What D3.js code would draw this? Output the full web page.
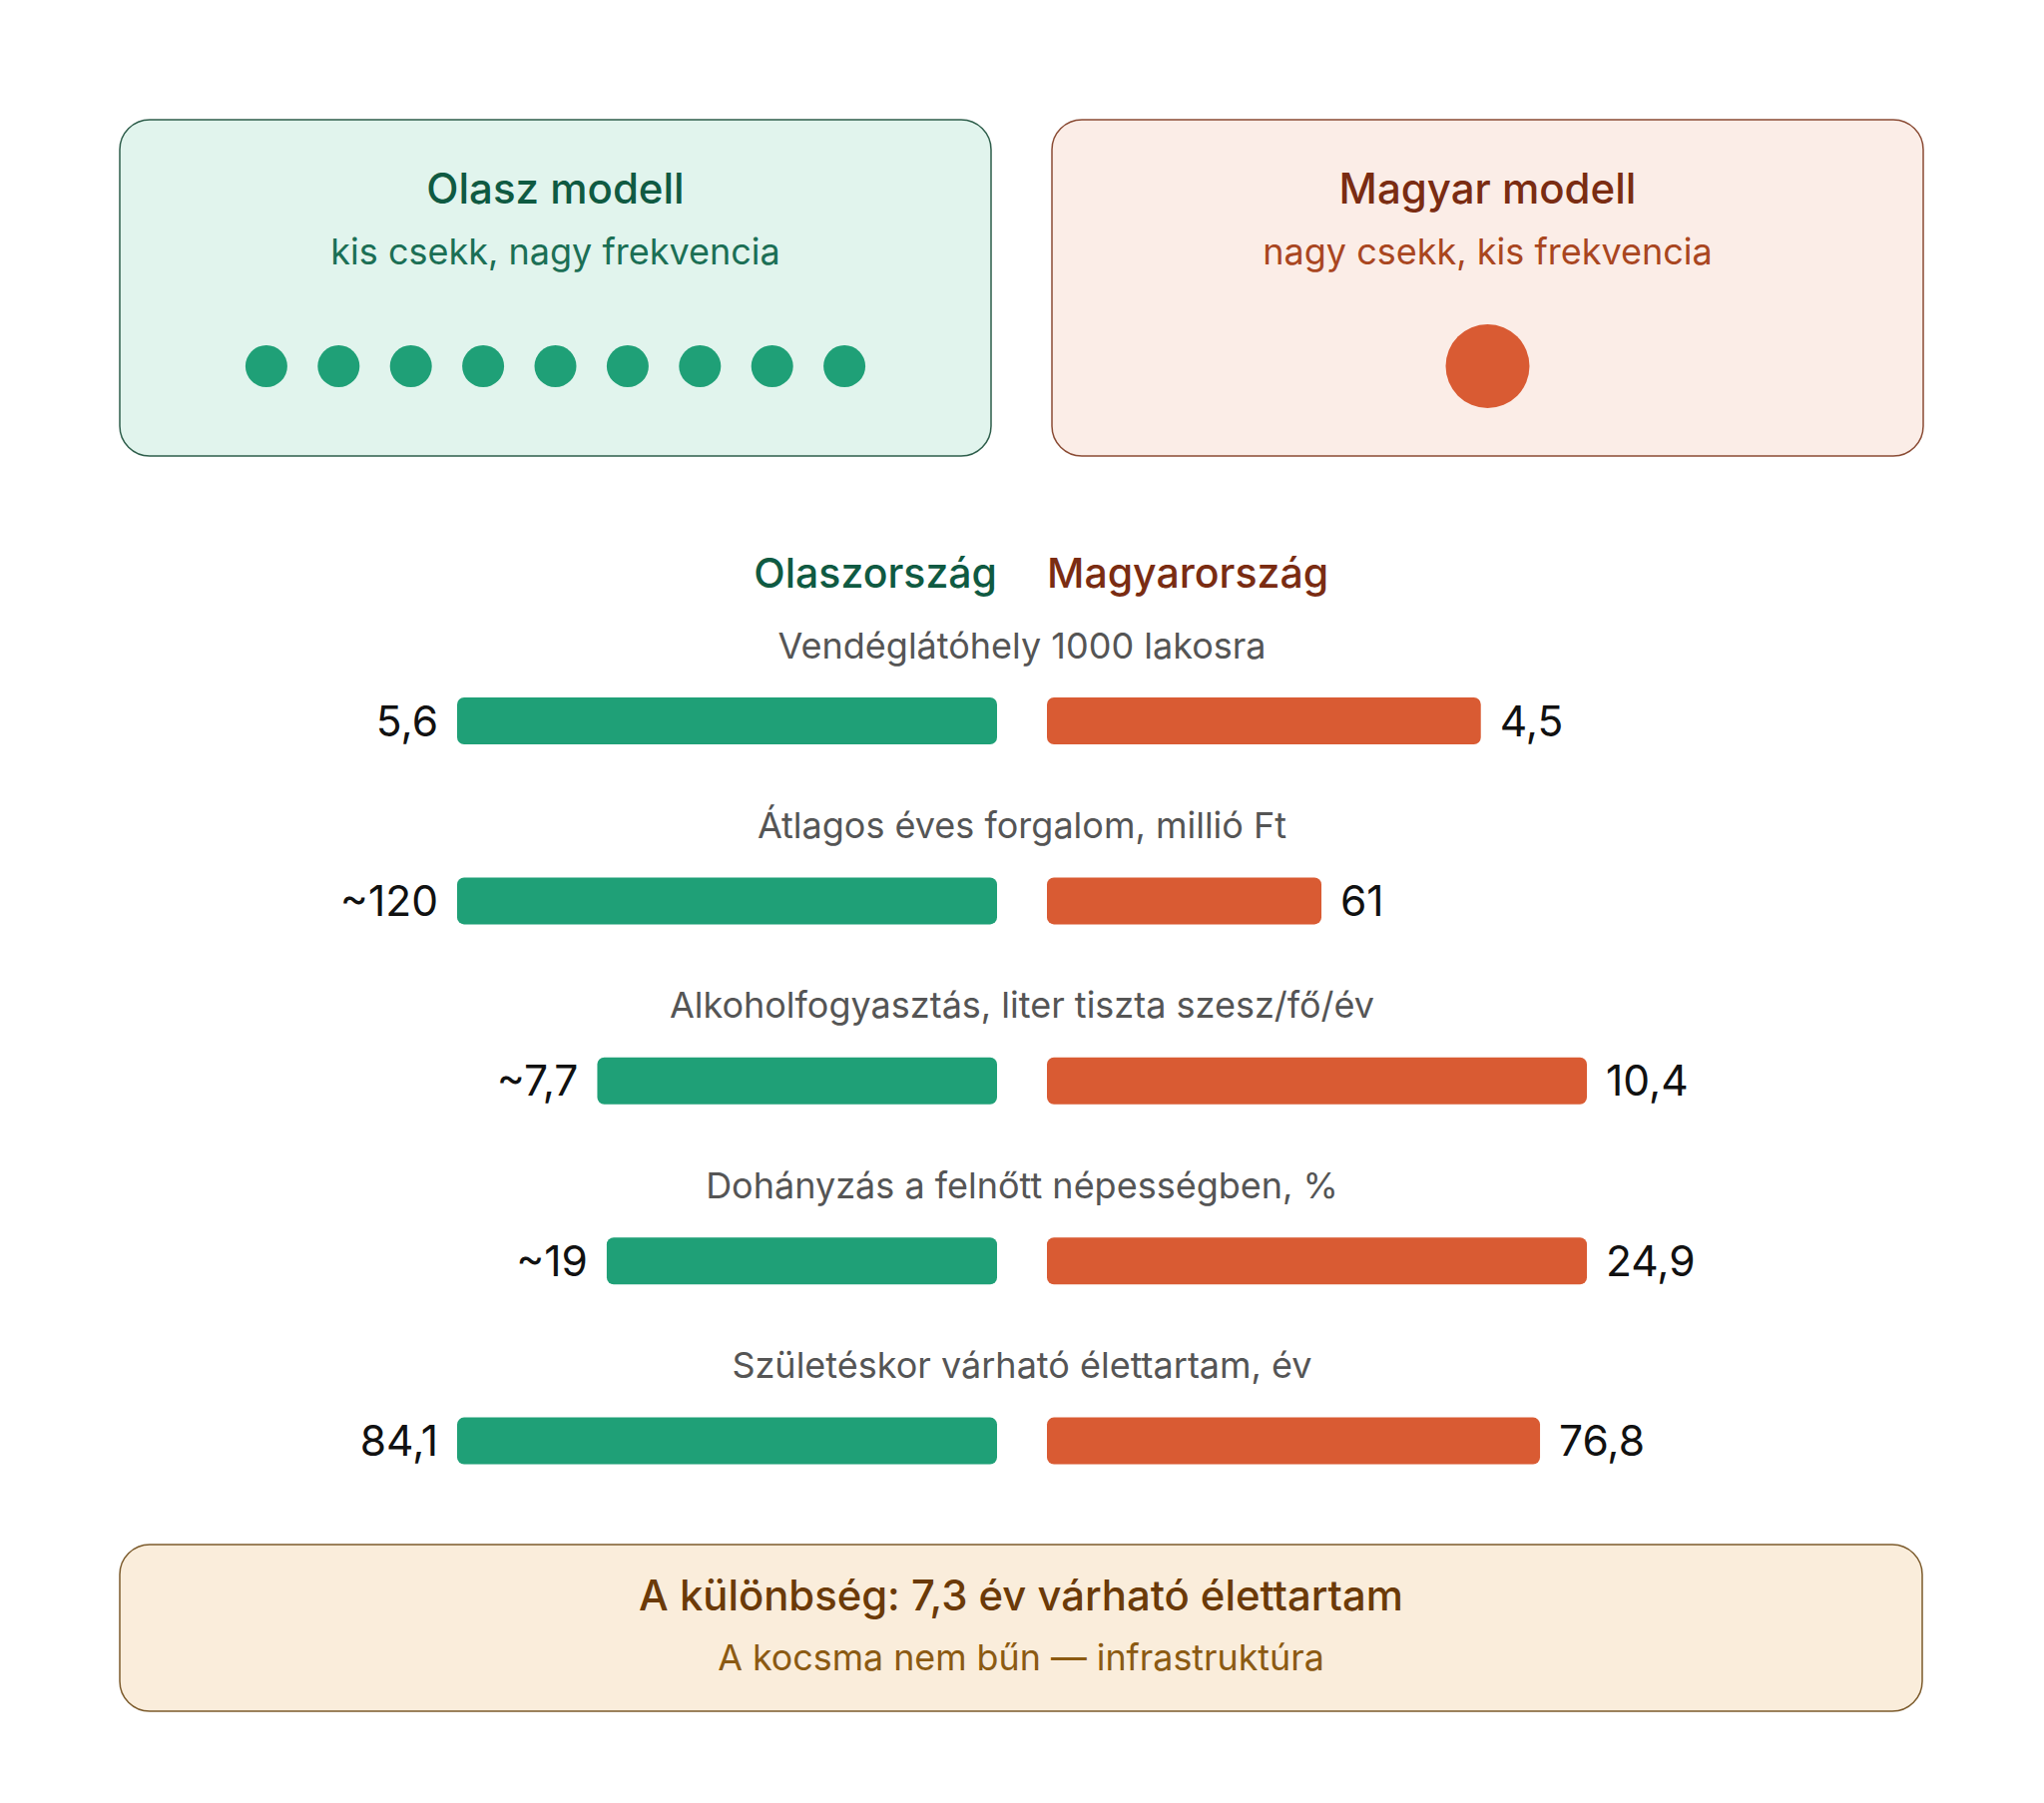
<!DOCTYPE html>
<html>
<head>
<meta charset="utf-8">
<script src="https://cdn.jsdelivr.net/npm/d3@7"></script>
<style>
  html, body { margin: 0; padding: 0; background: #fff; }
  svg { display: block; font-family: Inter, "Noto Sans", sans-serif; }
</style>
</head>
<body>
<div id="chart"></div>
<script>
// data
const metrics = [
  "Vendéglátóhely 1000 lakosra",
  "Átlagos éves forgalom, millió Ft",
  "Alkoholfogyasztás, liter tiszta szesz/fő/év",
  "Dohányzás a felnőtt népességben, %",
  "Születéskor várható élettartam, év"
];
const italyValues = [5.6, 120, 7.7, 18, 84.1];
const hungaryValues = [4.5, 61, 10.4, 24.9, 76.8];
const italyLabels = ["5,6", "~120", "~7,7", "~19", "84,1"];
const hungaryLabels = ["4,5", "61", "10,4", "24,9", "76,8"];
const countries = ["Olaszország", "Magyarország"];
const italyVisits = 9;
const hungaryVisits = 1;

let w = 2048;
let h = 1807;
let green = "#1fa077";
let orange = "#d95b33";

let svg = d3
  .select("#chart")
  .append("svg")
  .attr("width", w)
  .attr("height", h);

svg.append("rect").attr("width", w).attr("height", h).attr("fill", "#fff");

// top cards
let cardW = 873;
let cards = [
  {
    x: 120, title: "Olasz modell", sub: "kis csekk, nagy frekvencia",
    fill: "#e1f4ed", stroke: "#2e5e4b", tc: "#0f5a42", sc: "#1b6f55",
    n: italyVisits, r: 21, color: green
  },
  {
    x: 1054, title: "Magyar modell", sub: "nagy csekk, kis frekvencia",
    fill: "#fbede7", stroke: "#8a4b34", tc: "#7a2c12", sc: "#a9461f",
    n: hungaryVisits, r: 42, color: orange
  }
];

let card = svg
  .selectAll("g.card")
  .data(cards)
  .enter()
  .append("g")
  .attr("class", "card")
  .attr("transform", (d) => `translate(${d.x},120)`);

card
  .append("rect")
  .attr("width", cardW)
  .attr("height", 337)
  .attr("rx", 30)
  .attr("fill", (d) => d.fill)
  .attr("stroke", (d) => d.stroke)
  .attr("stroke-width", 1.5);

card
  .append("text")
  .attr("x", cardW / 2)
  .attr("y", 84)
  .attr("text-anchor", "middle")
  .attr("font-size", 42)
  .attr("font-weight", 500)
  .attr("fill", (d) => d.tc)
  .text((d) => d.title);

card
  .append("text")
  .attr("x", cardW / 2)
  .attr("y", 145)
  .attr("text-anchor", "middle")
  .attr("font-size", 36)
  .attr("fill", (d) => d.sc)
  .text((d) => d.sub);

// dots: one per visit
card.each(function (d) {
  let half = (d.n - 1) / 2;
  let dx = d3
    .scalePoint()
    .domain(d3.range(d.n))
    .range([cardW / 2 - half * 72.4, cardW / 2 + half * 72.4]);
  d3.select(this)
    .selectAll("circle")
    .data(d3.range(d.n))
    .enter()
    .append("circle")
    .attr("cx", (i) => (d.n === 1 ? cardW / 2 : dx(i)))
    .attr("cy", 247)
    .attr("r", d.r)
    .attr("fill", d.color);
});

// comparison bars
let cx = 1024;
let gap = 25;
let maxW = 541;
let barH = 47;

svg
  .selectAll("text.country")
  .data(countries)
  .enter()
  .append("text")
  .attr("class", "country")
  .attr("x", (d, i) => (i === 0 ? cx - gap : cx + gap))
  .attr("y", 589)
  .attr("text-anchor", (d, i) => (i === 0 ? "end" : "start"))
  .attr("font-size", 41)
  .attr("font-weight", 500)
  .attr("fill", (d, i) => (i === 0 ? "#0f5a42" : "#7a2c12"))
  .text((d) => d);

let rowY = d3
  .scalePoint()
  .domain(metrics)
  .range([722.5, 722.5 + 4 * 180.4]);

let rows = metrics.map((m, i) => ({
  name: m,
  it: italyValues[i],
  hu: hungaryValues[i],
  itLabel: italyLabels[i],
  huLabel: hungaryLabels[i],
  x: d3
    .scaleLinear()
    .domain([0, Math.max(italyValues[i], hungaryValues[i])])
    .range([0, maxW])
}));

let row = svg
  .selectAll("g.row")
  .data(rows)
  .enter()
  .append("g")
  .attr("class", "row")
  .attr("transform", (d) => `translate(0,${rowY(d.name)})`);

row
  .append("text")
  .attr("x", cx)
  .attr("y", -63)
  .attr("text-anchor", "middle")
  .attr("font-size", 36)
  .attr("fill", "#555")
  .text((d) => d.name);

row
  .append("rect")
  .attr("x", (d) => cx - gap - d.x(d.it))
  .attr("y", -barH / 2)
  .attr("width", (d) => d.x(d.it))
  .attr("height", barH)
  .attr("rx", 7)
  .attr("fill", green);

row
  .append("rect")
  .attr("x", cx + gap)
  .attr("y", -barH / 2)
  .attr("width", (d) => d.x(d.hu))
  .attr("height", barH)
  .attr("rx", 7)
  .attr("fill", orange);

row
  .append("text")
  .attr("x", (d) => cx - gap - d.x(d.it) - 19)
  .attr("y", 15)
  .attr("text-anchor", "end")
  .attr("font-size", 42.5)
  .attr("fill", "#111")
  .text((d) => d.itLabel);

row
  .append("text")
  .attr("x", (d) => cx + gap + d.x(d.hu) + 19)
  .attr("y", 15)
  .attr("text-anchor", "start")
  .attr("font-size", 42.5)
  .attr("fill", "#111")
  .text((d) => d.huLabel);

// bottom note
let noteW = 1806;
let note = svg.append("g").attr("transform", "translate(120,1548)");

note
  .append("rect")
  .attr("width", noteW)
  .attr("height", 167)
  .attr("rx", 30)
  .attr("fill", "#faeddb")
  .attr("stroke", "#7c5b2c")
  .attr("stroke-width", 1.5);

note
  .append("text")
  .attr("x", noteW / 2)
  .attr("y", 66)
  .attr("text-anchor", "middle")
  .attr("font-size", 41.8)
  .attr("font-weight", 500)
  .attr("fill", "#6b3a08")
  .text("A különbség: 7,3 év várható élettartam");

note
  .append("text")
  .attr("x", noteW / 2)
  .attr("y", 126)
  .attr("text-anchor", "middle")
  .attr("font-size", 35.8)
  .attr("fill", "#8b5a12")
  .text("A kocsma nem bűn — infrastruktúra");
</script>
</body>
</html>
